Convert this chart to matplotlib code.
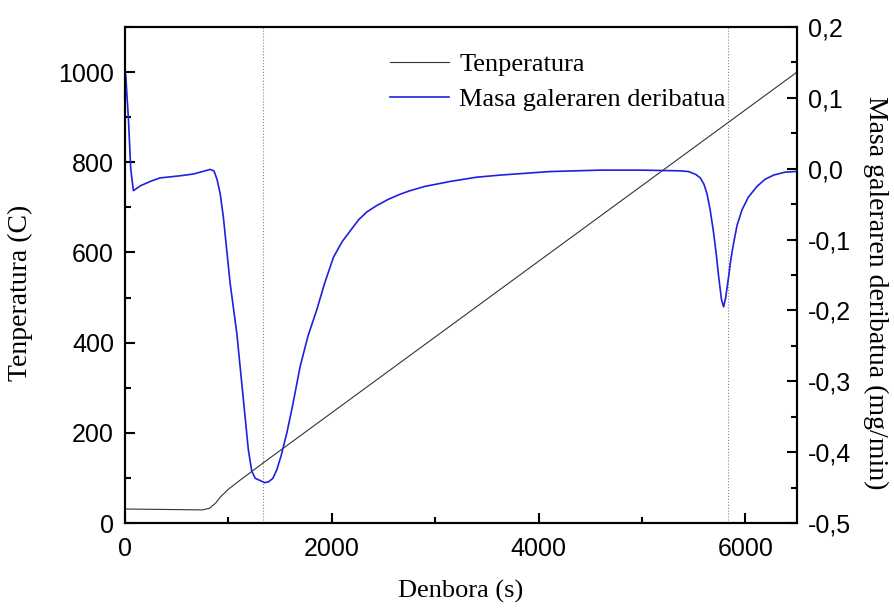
import matplotlib as mpl
mpl.use('Agg')
import matplotlib.pyplot as plt
from matplotlib.ticker import MultipleLocator


# temperature ramp (s, C)
time_T = [0, 400, 750, 820, 880, 920, 1000, 1113, 1329, 6500]
temp = [31, 30, 29, 33, 45, 57, 75, 95, 132, 1000]

# mass loss derivative (s, mg/min)
time_dm = [0, 8, 20, 32, 55, 81, 150, 260, 339, 532, 661, 750, 823, 860,
           890, 920, 951, 1016, 1081, 1145, 1193, 1226, 1260, 1306, 1350,
           1387, 1430, 1468, 1510, 1565, 1620, 1694, 1770, 1855, 1930, 2016,
           2100, 2177, 2260, 2339, 2435, 2550, 2661, 2758, 2900, 3145, 3400,
           3629, 4113, 4597, 5000, 5371, 5450, 5520, 5565, 5600, 5629, 5660,
           5694, 5720, 5742, 5770, 5790, 5810, 5839, 5860, 5887, 5920, 5968,
           6030, 6113, 6190, 6274, 6380, 6484]
dm = [0.137, 0.13, 0.10, 0.073, 0.0, -0.031, -0.024, -0.017, -0.013,
      -0.010, -0.0075, -0.004, -0.001, -0.003, -0.015, -0.035, -0.068,
      -0.161, -0.232, -0.326, -0.397, -0.427, -0.437, -0.440, -0.443,
      -0.442, -0.437, -0.425, -0.405, -0.373, -0.335, -0.279, -0.236,
      -0.199, -0.162, -0.125, -0.103, -0.088, -0.072, -0.061, -0.052,
      -0.043, -0.036, -0.031, -0.025, -0.018, -0.012, -0.009, -0.004,
      -0.002, -0.002, -0.003, -0.004, -0.008, -0.013, -0.022, -0.035,
      -0.058, -0.091, -0.122, -0.152, -0.185, -0.195, -0.182, -0.152,
      -0.128, -0.105, -0.080, -0.058, -0.040, -0.025, -0.015, -0.009,
      -0.005, -0.004]

vlines = [1330, 5830]

left_ticks = [0, 200, 400, 600, 800, 1000]
right_ticks = [-0.5, -0.4, -0.3, -0.2, -0.1, 0.0, 0.1, 0.2]
right_labels = ['-0,5', '-0,4', '-0,3', '-0,2', '-0,1', '0,0', '0,1', '0,2']
x_ticks = [0, 2000, 4000, 6000]


def main():
    mpl.rcParams['axes.unicode_minus'] = False
    mpl.rcParams['font.family'] = 'sans-serif'
    mpl.rcParams['font.sans-serif'] = ['Liberation Sans']
    serif = 'Liberation Serif'

    fig = plt.figure(figsize=(8.95, 6.08), dpi=100)
    ax = fig.add_axes([0.1397, 0.1398, 0.7508, 0.8158])
    ax2 = ax.twinx()

    for v in vlines:
        ax.axvline(v, color='#888888', lw=0.8, ls=':')

    ax.plot(time_T, temp, '-', color='#333333', lw=0.8)
    ax2.plot(time_dm, dm, '-', color='#2020dd', lw=1.2)

    ax.set_xlim(0, 6500)
    ax.set_ylim(0, 1100)
    ax2.set_ylim(-0.5, 0.2)

    ax.set_xticks(x_ticks)
    ax.xaxis.set_minor_locator(MultipleLocator(1000))
    ax.set_yticks(left_ticks)
    ax.yaxis.set_minor_locator(MultipleLocator(100))
    ax2.set_yticks(right_ticks)
    ax2.set_yticklabels(right_labels)
    ax2.yaxis.set_minor_locator(MultipleLocator(0.05))

    for a in (ax, ax2):
        for s in a.spines.values():
            s.set_linewidth(1.5)
        a.tick_params(which='major', direction='in', length=7, width=1.5,
                      labelsize=18, pad=8)
        a.tick_params(which='minor', direction='in', length=4, width=1.5)
    ax.tick_params(axis='x', which='both', top=False, pad=10)
    ax.tick_params(axis='y', which='both', right=False)
    ax2.tick_params(axis='y', which='both', left=False)

    ax.set_xlabel('Denbora (s)', family=serif, fontsize=19, labelpad=14)
    ax.set_ylabel('Tenperatura (C)', family=serif, fontsize=20,
                  va='bottom')
    ax.yaxis.set_label_coords(-0.137, 0.464)
    ax2.set_ylabel('Masa galeraren deribatua (mg/min)', family=serif,
                   fontsize=20, rotation=270, va='bottom')
    ax2.yaxis.set_label_coords(1.098, 0.464)

    ax.plot([], [], '-', color='#333333', lw=0.8, label='Tenperatura')
    ax.plot([], [], '-', color='#2020dd', lw=1.2,
            label='Masa galeraren deribatua')
    ax.legend(loc='upper left', bbox_to_anchor=(0.395, 0.948), frameon=False,
              prop={'family': serif, 'size': 19}, handlelength=2.2,
              handletextpad=0.4, labelspacing=0.42, borderpad=0,
              borderaxespad=0)

    fig.savefig('out.png', dpi=100)


if __name__ == '__main__':
    main()
